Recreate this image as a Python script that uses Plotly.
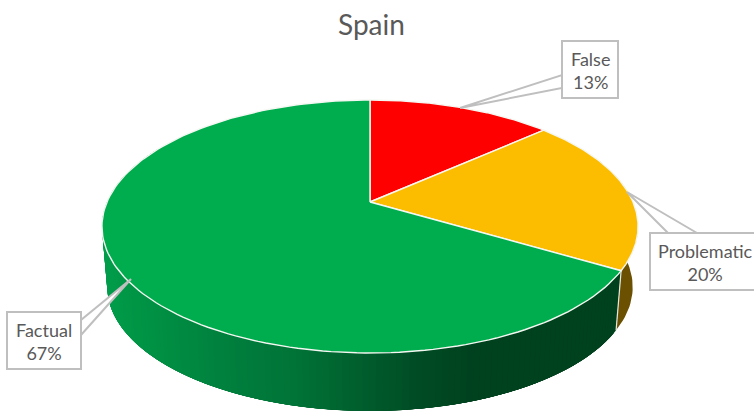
import numpy as np
import plotly.graph_objects as go

categories = ["False", "Problematic", "Factual"]
values = [13.4, 20.1, 66.5]
percent_labels = ["13%", "20%", "67%"]
title_text = "Spain"

top_colors = ["#FF0000", "#FCBC00", "#00AD4E"]
wall_base = {"Problematic": "#6A5000"}
green_stops_x = [100, 130, 240, 300, 420, 480, 640]
green_stops_rgb = [(0, 158, 76), (0, 150, 70), (0, 125, 60), (0, 115, 54), (0, 76, 36), (0, 65, 30), (0, 65, 30)]

# projection of the round pie on the page (pixels)
CX, CY, A, B, P = 370.0, 202.0, 263.0, 121.75, 0.1936
ELL_Y, SHRINK, DEPTH = 226.5, 0.98, 60.5


def top_pt(deg):
    t = np.radians(np.asarray(deg, float))
    X, Y = np.sin(t), np.cos(t)
    d = 1 + P * Y
    return CX + A * X / d, CY - B * Y / d


def bottom_pt(deg):
    x, y = top_pt(deg)
    return CX + (x - CX) * SHRINK, ELL_Y + (y - ELL_Y) * SHRINK + DEPTH


def green_at(x):
    c = [np.interp(x, green_stops_x, [s[i] for s in green_stops_rgb]) for i in range(3)]
    return "rgb(%d,%d,%d)" % tuple(int(round(v)) for v in c)


cum = np.cumsum([0] + values) / sum(values) * 360.0
fig = go.Figure()


def poly(x, y, fill, line=None, width=1.0):
    fig.add_trace(go.Scatter(x=list(x), y=list(y), mode="lines", fill="toself", fillcolor=fill,
                             line=dict(color=line or fill, width=width), hoverinfo="skip", showlegend=False))


def wall(a, b, fill):
    ang = np.linspace(a, b, 40)
    x1, y1 = top_pt(ang)
    x2, y2 = bottom_pt(ang[::-1])
    poly(np.r_[x1, x2], np.r_[y1, y2], fill, width=0)


# side wall: Problematic part (brown)
wall(62.0, cum[2], wall_base["Problematic"])

# side wall: Factual part (green gradient), each band overlaps the ones that follow
step = np.linspace(cum[2], 298.0, 150)
for i in range(len(step) - 1):
    b = step[min(i + 6, len(step) - 1)]
    xm = float(top_pt(step[i])[0])
    wall(step[i], b, green_at(xm))

# corner edge between wall parts
xe = [top_pt(cum[2])[0], bottom_pt(cum[2])[0]]
ye = [top_pt(cum[2])[1], bottom_pt(cum[2])[1]]
fig.add_trace(go.Scatter(x=xe, y=ye, mode="lines", line=dict(color="#E8E8E0", width=1.2),
                         hoverinfo="skip", showlegend=False))

# top slices
for i, cat in enumerate(categories):
    ang = np.linspace(cum[i], cum[i + 1], 160)
    x, y = top_pt(ang)
    poly(np.r_[CX, x, CX], np.r_[CY, y, CY], top_colors[i], line="#F4F7F2", width=1.4)

# callouts: (box left, top, right, bottom), (leader tip), (two leader feet)
boxes = [(562, 41, 618, 98), (650, 233, 780, 290), (7, 312, 81, 369)]
tips = [(460, 108), (627, 192), (131, 279)]
feet = [((562, 75), (562, 88)), ((697, 233), (668, 233)), ((81, 320), (81, 335))]
text_x = [590, 705, 44]
text_y = [70, 262, 341]

for i, cat in enumerate(categories):
    fx = [tips[i][0], feet[i][0][0], feet[i][1][0], tips[i][0]]
    fy = [tips[i][1], feet[i][0][1], feet[i][1][1], tips[i][1]]
    poly(fx, fy, "#FFFFFF", line="#BFBFBF", width=2)
    l, t, r, b = boxes[i]
    fig.add_shape(type="rect", x0=l, y0=t, x1=r, y1=b, xref="x", yref="y", layer="above",
                  fillcolor="#FFFFFF", line=dict(color="#BFBFBF", width=2))
    fig.add_annotation(x=text_x[i], y=text_y[i], xref="x", yref="y", showarrow=False, align="center",
                       text=cat + "<br>" + percent_labels[i],
                       font=dict(family="Lato, Carlito, sans-serif", size=18, color="#595959"))

fig.add_annotation(x=371, y=24, xref="x", yref="y", showarrow=False, text=title_text,
                   font=dict(family="Lato, Carlito, sans-serif", size=28, color="#595959"))

fig.update_layout(width=754, height=412, margin=dict(l=0, r=0, t=0, b=0), paper_bgcolor="#FFFFFF",
                  plot_bgcolor="#FFFFFF", showlegend=False,
                  xaxis=dict(range=[0, 754], visible=False, fixedrange=True),
                  yaxis=dict(range=[412, 0], visible=False, fixedrange=True))
fig.write_html("out.html", config={"displayModeBar": False},
               post_script="document.body.style.margin='0';document.documentElement.style.overflow='hidden';")
